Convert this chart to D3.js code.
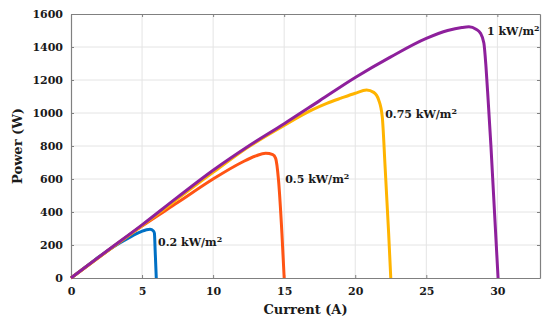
<!DOCTYPE html>
<html><head><meta charset="utf-8">
<script src="https://cdn.jsdelivr.net/npm/d3@7"></script>
<style>body{margin:0;background:#fff}svg{display:block}text{font-family:"DejaVu Serif",serif;font-weight:bold;fill:#1a1a1a}</style>
</head><body><svg id="c" width="550" height="323"></svg>
<script>
const xTicks = [0,5,10,15,20,25,30];
const yTicks = [0,200,400,600,800,1000,1200,1400,1600];
const seriesNames = ["0.2 kW/m","0.5 kW/m","0.75 kW/m","1 kW/m"];
const seriesColors = ["#0070C4","#FF5414","#FFB400","#8E209C"];
const blueI = [0,1,2,3,4,4.9,5.56,5.8,5.87,5.92,6.0];
const blueP = [0,65,130,190,240,280,295,285,271,170,0];
const orangeI = [0,2.5,5,7.5,10,12,13,13.7,14.2,14.4,14.6,14.84,15];
const orangeP = [0,160,315,457,600,700,740,756,748,725,594,271,0];
const yellowI = [0,5,10,12.5,15,17,18,19,20,20.8,21.3,21.65,21.9,22.1,22.35,22.5];
const yellowP = [0,318,640,795,925,1020,1058,1090,1120,1139,1125,1079,978,675,271,0];
const purpleI = [0,2.5,5,7.5,10,12.5,15,17.5,20,22.5,25,26.5,27.5,28,28.5,28.8,29.05,29.2,29.35,29.55,30.05];
const purpleP = [0,162,322,490,653,800,935,1075,1215,1340,1452,1500,1518,1522,1508,1485,1424,1280,1079,796,0];
const labelAt = [[6.13,218],[15.07,600],[22.11,994],[29.27,1497]];

const svg = d3.select("#c");
const m = {l:71, r:540, t:14, b:278};
const x = d3.scaleLinear().domain([0,33]).range([m.l,m.r]);
const y = d3.scaleLinear().domain([0,1600]).range([m.b,m.t]);

// grid
svg.append("g").selectAll("line").data(xTicks.slice(1)).join("line")
  .attr("x1",d=>x(d)).attr("x2",d=>x(d)).attr("y1",m.t).attr("y2",m.b)
  .attr("stroke","#e4e4e4").attr("stroke-width",1);
svg.append("g").selectAll("line").data(yTicks.slice(1,-1)).join("line")
  .attr("y1",d=>y(d)).attr("y2",d=>y(d)).attr("x1",m.l).attr("x2",m.r)
  .attr("stroke","#e4e4e4").attr("stroke-width",1);

// axes
const ax = "#808080";
const fmt = d3.format("d");
const xb = svg.append("g").attr("transform",`translate(0,${m.b})`)
  .call(d3.axisBottom(x).tickValues(xTicks).tickFormat(fmt).tickSizeInner(-3).tickSizeOuter(0).tickPadding(9));
const xt = svg.append("g").attr("transform",`translate(0,${m.t})`)
  .call(d3.axisTop(x).tickValues(xTicks).tickSizeInner(-3).tickSizeOuter(0).tickFormat(""));
const yl = svg.append("g").attr("transform",`translate(${m.l},0)`)
  .call(d3.axisLeft(y).tickValues(yTicks).tickFormat(fmt).tickSizeInner(-3).tickSizeOuter(0).tickPadding(8));
const yr = svg.append("g").attr("transform",`translate(${m.r},0)`)
  .call(d3.axisRight(y).tickValues(yTicks).tickSizeInner(-3).tickSizeOuter(0).tickFormat(""));
[xb,xt,yl,yr].forEach(g=>{
  g.select(".domain").attr("stroke",ax).attr("stroke-width",1.2);
  g.selectAll(".tick line").attr("stroke",ax);
  g.selectAll(".tick text").attr("fill","#1a1a1a").style("font-size","11px")
   .style("font-family","'DejaVu Serif',serif").style("font-weight","bold");
});

// lines
const data = [[blueI,blueP],[orangeI,orangeP],[yellowI,yellowP],[purpleI,purpleP]];
const line = d3.line().x(d=>x(d[0])).y(d=>y(d[1])).curve(d3.curveMonotoneX);
data.forEach((s,i)=>{
  const pts = s[0].map((v,k)=>[v,s[1][k]]);
  svg.append("path").datum(pts).attr("d",line).attr("fill","none")
    .attr("stroke",seriesColors[i]).attr("stroke-width",3).attr("stroke-linejoin","round");
});

// labels
labelAt.forEach((p,i)=>{
  const t = svg.append("text").attr("x",x(p[0])).attr("y",y(p[1])+4)
    .style("font-size","11px");
  t.append("tspan").text(seriesNames[i]);
  t.append("tspan").attr("dy",-4).style("font-size","8px").text("2");
});

// axis titles
svg.append("text").attr("x",(m.l+m.r)/2).attr("y",314).attr("text-anchor","middle")
  .style("font-size","13px").text("Current (A)");
svg.append("text").attr("transform",`translate(22,${(m.t+m.b)/2}) rotate(-90)`)
  .attr("text-anchor","middle").style("font-size","13px").text("Power (W)");
</script></body></html>
